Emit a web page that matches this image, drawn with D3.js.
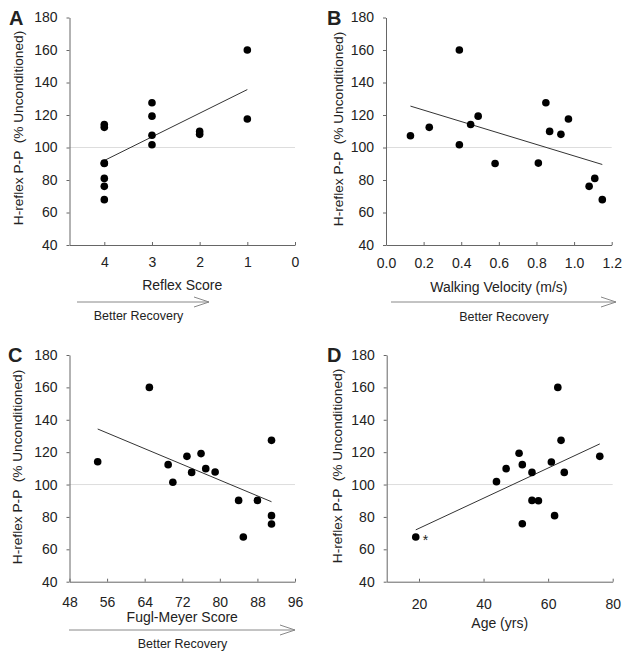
<html>
<head>
  <meta charset="utf-8">
  <title>H-reflex vs recovery</title>
</head>
<style>
  body { margin: 0; background: #fff; }
  svg text { font-family: "Liberation Sans", Arial, sans-serif; fill: #222; }
</style>
<body>
  <div id="chart"></div>
</body>
<script src="https://d3js.org/d3.v7.min.js"></script>
<script>

  // panel A : reflex score
  const reflexScore = [4, 4, 4, 4, 4, 4, 4, 3, 3, 3, 3, 2, 2, 1, 1]
  const reflexH = [114.2, 112.4, 90.2, 90.4, 81, 76.1, 67.9, 127.5, 119.3, 107.5, 101.7, 109.9, 108.1, 160, 117.5]
  const reflexTicks = [4, 3, 2, 1, 0]

  // panel B : walking velocity
  const velocity = [0.13, 0.23, 0.39, 0.39, 0.45, 0.49, 0.58, 0.81, 0.85, 0.87, 0.93, 0.97, 1.08, 1.11, 1.15]
  const velocityH = [107.2, 112.4, 160, 101.7, 114.2, 119.3, 90.2, 90.4, 127.5, 109.9, 108.1, 117.5, 76.1, 81, 67.9]
  const velocityTicks = [0, 0.2, 0.4, 0.6, 0.8, 1.0, 1.2]

  // panel C : Fugl-Meyer
  const fugl = [54, 65, 69, 70, 73, 74, 76, 77, 79, 84, 85, 88, 91, 91, 91]
  const fuglH = [114.1, 160, 112.3, 101.4, 117.4, 107.5, 119.1, 109.8, 107.7, 90.2, 67.6, 90.2, 127.3, 80.8, 75.6]
  const fuglTicks = [48, 56, 64, 72, 80, 88, 96]

  // panel D : age
  const age = [19, 44, 47, 51, 52, 52, 55, 55, 57, 61, 62, 63, 64, 65, 76]
  const ageH = [67.6, 101.8, 109.8, 119.3, 112.3, 75.8, 107.5, 90.2, 90.0, 113.9, 80.8, 160, 127.3, 107.5, 117.4]
  const ageTicks = [20, 40, 60, 80]

  const yTicks = [40, 60, 80, 100, 120, 140, 160, 180]
  const yTitle = "H-reflex P-P  (% Unconditioned)"

  const svg = d3.select("#chart").append("svg")
    .attr("width", 629)
    .attr("height", 660)

  svg.append("rect").attr("width", 629).attr("height", 660).attr("fill", "#fff")

  function fit(xs, ys) {
    const mx = d3.mean(xs), my = d3.mean(ys)
    let sxy = 0, sxx = 0
    xs.forEach((x, i) => { sxy += (x - mx) * (ys[i] - my); sxx += (x - mx) * (x - mx) })
    const b = sxy / sxx
    return x => my + b * (x - mx)
  }

  function panel(p) {
    const g = svg.append("g")
    const x = d3.scaleLinear().domain(p.xDomain).range([p.left, p.right])
    const y = d3.scaleLinear().domain([40, 180]).range([p.bottom, p.top])

    // reference line at 100
    g.append("line")
      .attr("x1", p.left).attr("x2", p.right)
      .attr("y1", y(100)).attr("y2", y(100))
      .attr("stroke", "#ddd").attr("stroke-width", 1)

    const ya = g.append("g")
      .attr("transform", `translate(${p.left},0)`)
      .call(d3.axisLeft(y).tickValues(yTicks).tickSize(3).tickSizeOuter(0).tickPadding(9))
    const xa = g.append("g")
      .attr("transform", `translate(0,${p.bottom})`)
      .call(d3.axisBottom(x).tickValues(p.ticks).tickSize(-3).tickSizeOuter(0)
        .tickPadding(p.pad).tickFormat(p.fmt))
    ;[ya, xa].forEach(a => {
      a.select(".domain").attr("stroke", "#666")
      a.selectAll(".tick line").attr("stroke", "#666")
      a.selectAll("text").attr("font-size", 14).attr("fill", "#222")
        .attr("font-family", "Liberation Sans, Arial, sans-serif")
    })

    // regression line
    const f = fit(p.xs, p.ys)
    const ext = d3.extent(p.xs)
    g.append("line")
      .attr("x1", x(ext[0])).attr("y1", y(f(ext[0])))
      .attr("x2", x(ext[1])).attr("y2", y(f(ext[1])))
      .attr("stroke", "#333").attr("stroke-width", 1)

    g.selectAll("circle.pt")
      .data(p.xs.map((v, i) => [v, p.ys[i]]))
      .enter().append("circle")
      .attr("class", "pt")
      .attr("cx", d => x(d[0]))
      .attr("cy", d => y(d[1]))
      .attr("r", 3.8)
      .attr("fill", "#000")

    // axis titles
    g.append("text")
      .attr("x", (p.left + p.right) / 2)
      .attr("y", p.titleY)
      .attr("text-anchor", "middle")
      .attr("font-size", 14)
      .text(p.title)

    g.append("text")
      .attr("transform", `translate(${p.yTitleX},${p.yTitleY}) rotate(-90)`)
      .attr("text-anchor", "middle")
      .attr("dy", "0.35em")
      .attr("font-size", 13.7)
      .style("white-space", "pre")
      .text(yTitle)

    g.append("text")
      .attr("x", p.labelX).attr("y", p.labelY)
      .attr("font-size", 20).attr("font-weight", "bold")
      .attr("fill", "#000")
      .text(p.label)

    if (p.arrow) {
      const a = p.arrow
      g.append("line")
        .attr("x1", a.x1).attr("x2", a.x2).attr("y1", a.y).attr("y2", a.y)
        .attr("stroke", "#888").attr("stroke-width", 1)
      g.append("path")
        .attr("d", `M${a.x2 - 15},${a.y - 5}L${a.x2},${a.y}L${a.x2 - 15},${a.y + 5}`)
        .attr("fill", "none").attr("stroke", "#888").attr("stroke-width", 1)
      g.append("text")
        .attr("x", a.tx).attr("y", a.ty)
        .attr("text-anchor", "middle")
        .attr("font-size", 12.5)
        .text("Better Recovery")
    }
    return { x, y, g }
  }

  panel({
    label: "A", labelX: 9, labelY: 25,
    xs: reflexScore, ys: reflexH, ticks: reflexTicks, fmt: d3.format("d"),
    xDomain: [4.73, 0], left: 69.5, right: 295, top: 17.5, bottom: 245, pad: 12,
    title: "Reflex Score", titleY: 290,
    yTitleX: 18, yTitleY: 128,
    arrow: { x1: 77, x2: 209, y: 302, tx: 138.5, ty: 320 }
  })

  panel({
    label: "B", labelX: 327, labelY: 25,
    xs: velocity, ys: velocityH, ticks: velocityTicks, fmt: d3.format(".1f"),
    xDomain: [0, 1.2], left: 386, right: 611.7, top: 17.5, bottom: 245, pad: 13,
    title: "Walking Velocity (m/s)", titleY: 292,
    yTitleX: 338, yTitleY: 129,
    arrow: { x1: 391, x2: 616, y: 302, tx: 504, ty: 321 }
  })

  panel({
    label: "C", labelX: 8, labelY: 362,
    xs: fugl, ys: fuglH, ticks: fuglTicks, fmt: d3.format("d"),
    xDomain: [48, 96], left: 69.5, right: 295, top: 355, bottom: 581.7, pad: 15,
    title: "Fugl-Meyer Score", titleY: 622,
    yTitleX: 17, yTitleY: 467,
    arrow: { x1: 69, x2: 295, y: 630, tx: 182.5, ty: 648 }
  })

  const d = panel({
    label: "D", labelX: 327, labelY: 362,
    xs: age, ys: ageH, ticks: ageTicks, fmt: d3.format("d"),
    xDomain: [10, 80], left: 386.7, right: 612.7, top: 355, bottom: 581.7, pad: 17,
    title: "Age (yrs)", titleY: 628,
    yTitleX: 337, yTitleY: 466
  })

  // asterisk beside the youngest subject
  d.g.append("text")
    .attr("x", d.x(age[0]) + 7)
    .attr("y", d.y(ageH[0]) + 8)
    .attr("font-size", 14)
    .attr("fill", "#888")
    .text("*")

</script>
</html>
